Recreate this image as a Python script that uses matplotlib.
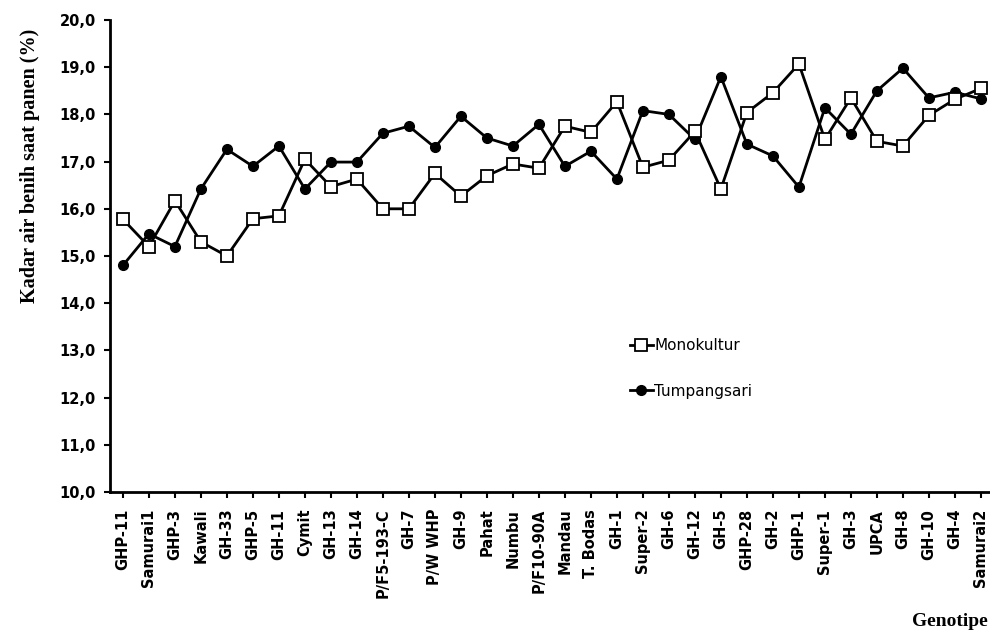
import numpy as np
import matplotlib
matplotlib.use('Agg')
import matplotlib.pyplot as plt
from matplotlib.ticker import FuncFormatter

# Genotipe (sumbu x)
genotipe = ['GHP-11', 'Samurai1', 'GHP-3', 'Kawali', 'GH-33', 'GHP-5', 'GH-11',
            'Cymit', 'GH-13', 'GH-14', 'P/F5-193-C', 'GH-7', 'P/W WHP', 'GH-9',
            'Pahat', 'Numbu', 'P/F10-90A', 'Mandau', 'T. Bodas', 'GH-1',
            'Super-2', 'GH-6', 'GH-12', 'GH-5', 'GHP-28', 'GH-2', 'GHP-1',
            'Super-1', 'GH-3', 'UPCA', 'GH-8', 'GH-10', 'GH-4', 'Samurai2']

# Kadar air benih saat panen (%)
monokultur = [15.78, 15.2, 16.17, 15.3, 15.0, 15.79, 15.85,
              17.05, 16.47, 16.63, 16.0, 16.0, 16.75, 16.27,
              16.7, 16.95, 16.86, 17.75, 17.62, 18.27,
              16.88, 17.03, 17.64, 16.42, 18.04, 18.46, 19.07,
              17.47, 18.35, 17.43, 17.33, 17.98, 18.32, 18.55]
tumpangsari = [14.8, 15.47, 15.2, 16.42, 17.26, 16.9, 17.33,
               16.42, 16.99, 16.99, 17.6, 17.75, 17.3, 17.96,
               17.5, 17.33, 17.79, 16.9, 17.22, 16.63,
               18.08, 18.0, 17.47, 18.8, 17.37, 17.12, 16.46,
               18.14, 17.58, 18.5, 18.98, 18.35, 18.47, 18.33]

x = np.arange(len(genotipe))

fig = plt.figure(figsize=(9.9, 6.37), dpi=100)
ax = fig.add_axes([0.111, 0.2276, 0.889, 0.741])

ax.plot(x, monokultur, color='black', lw=2, marker='s', ms=8,
        mfc='white', mec='black', mew=1.3, label='Monokultur', zorder=3)
ax.plot(x, tumpangsari, color='black', lw=2, marker='o', ms=7,
        mfc='black', mec='black', label='Tumpangsari', zorder=2)

ax.set_ylim(10, 20)
ax.set_yticks(np.arange(10, 20.5, 1))
ax.yaxis.set_major_formatter(FuncFormatter(lambda v, p: f'{v:.1f}'.replace('.', ',')))
ax.set_xlim(-0.5, 33.35)
ax.set_xticks(x)
ax.set_xticklabels(genotipe, rotation=90, fontsize=10.5, fontweight='bold',
                   family=['Liberation Sans Narrow', 'DejaVu Sans'])

for lab in ax.get_yticklabels():
    lab.set_fontweight('bold')
    lab.set_fontsize(10.5)

for s in ['top', 'right']:
    ax.spines[s].set_visible(False)
ax.spines['left'].set_linewidth(2)
ax.spines['bottom'].set_linewidth(2)
ax.tick_params(axis='both', direction='out', length=4, width=1.5)
ax.tick_params(axis='x', pad=8)
ax.tick_params(axis='y', pad=6)

fig.text(0.03, 0.74, 'Kadar air benih saat panen (%)', rotation=90,
         ha='center', va='center', fontsize=14.5, fontweight='bold',
         family='Liberation Serif')
fig.text(0.998, 0.025, 'Genotipe', ha='right', va='center', fontsize=14,
         fontweight='bold', family='Liberation Serif')

leg = ax.legend(loc='upper left', bbox_to_anchor=(0.575, 0.355), frameon=False,
                fontsize=11, handlelength=1.5, handletextpad=0.1,
                labelspacing=2.0)

plt.savefig('out.png', dpi=100)
